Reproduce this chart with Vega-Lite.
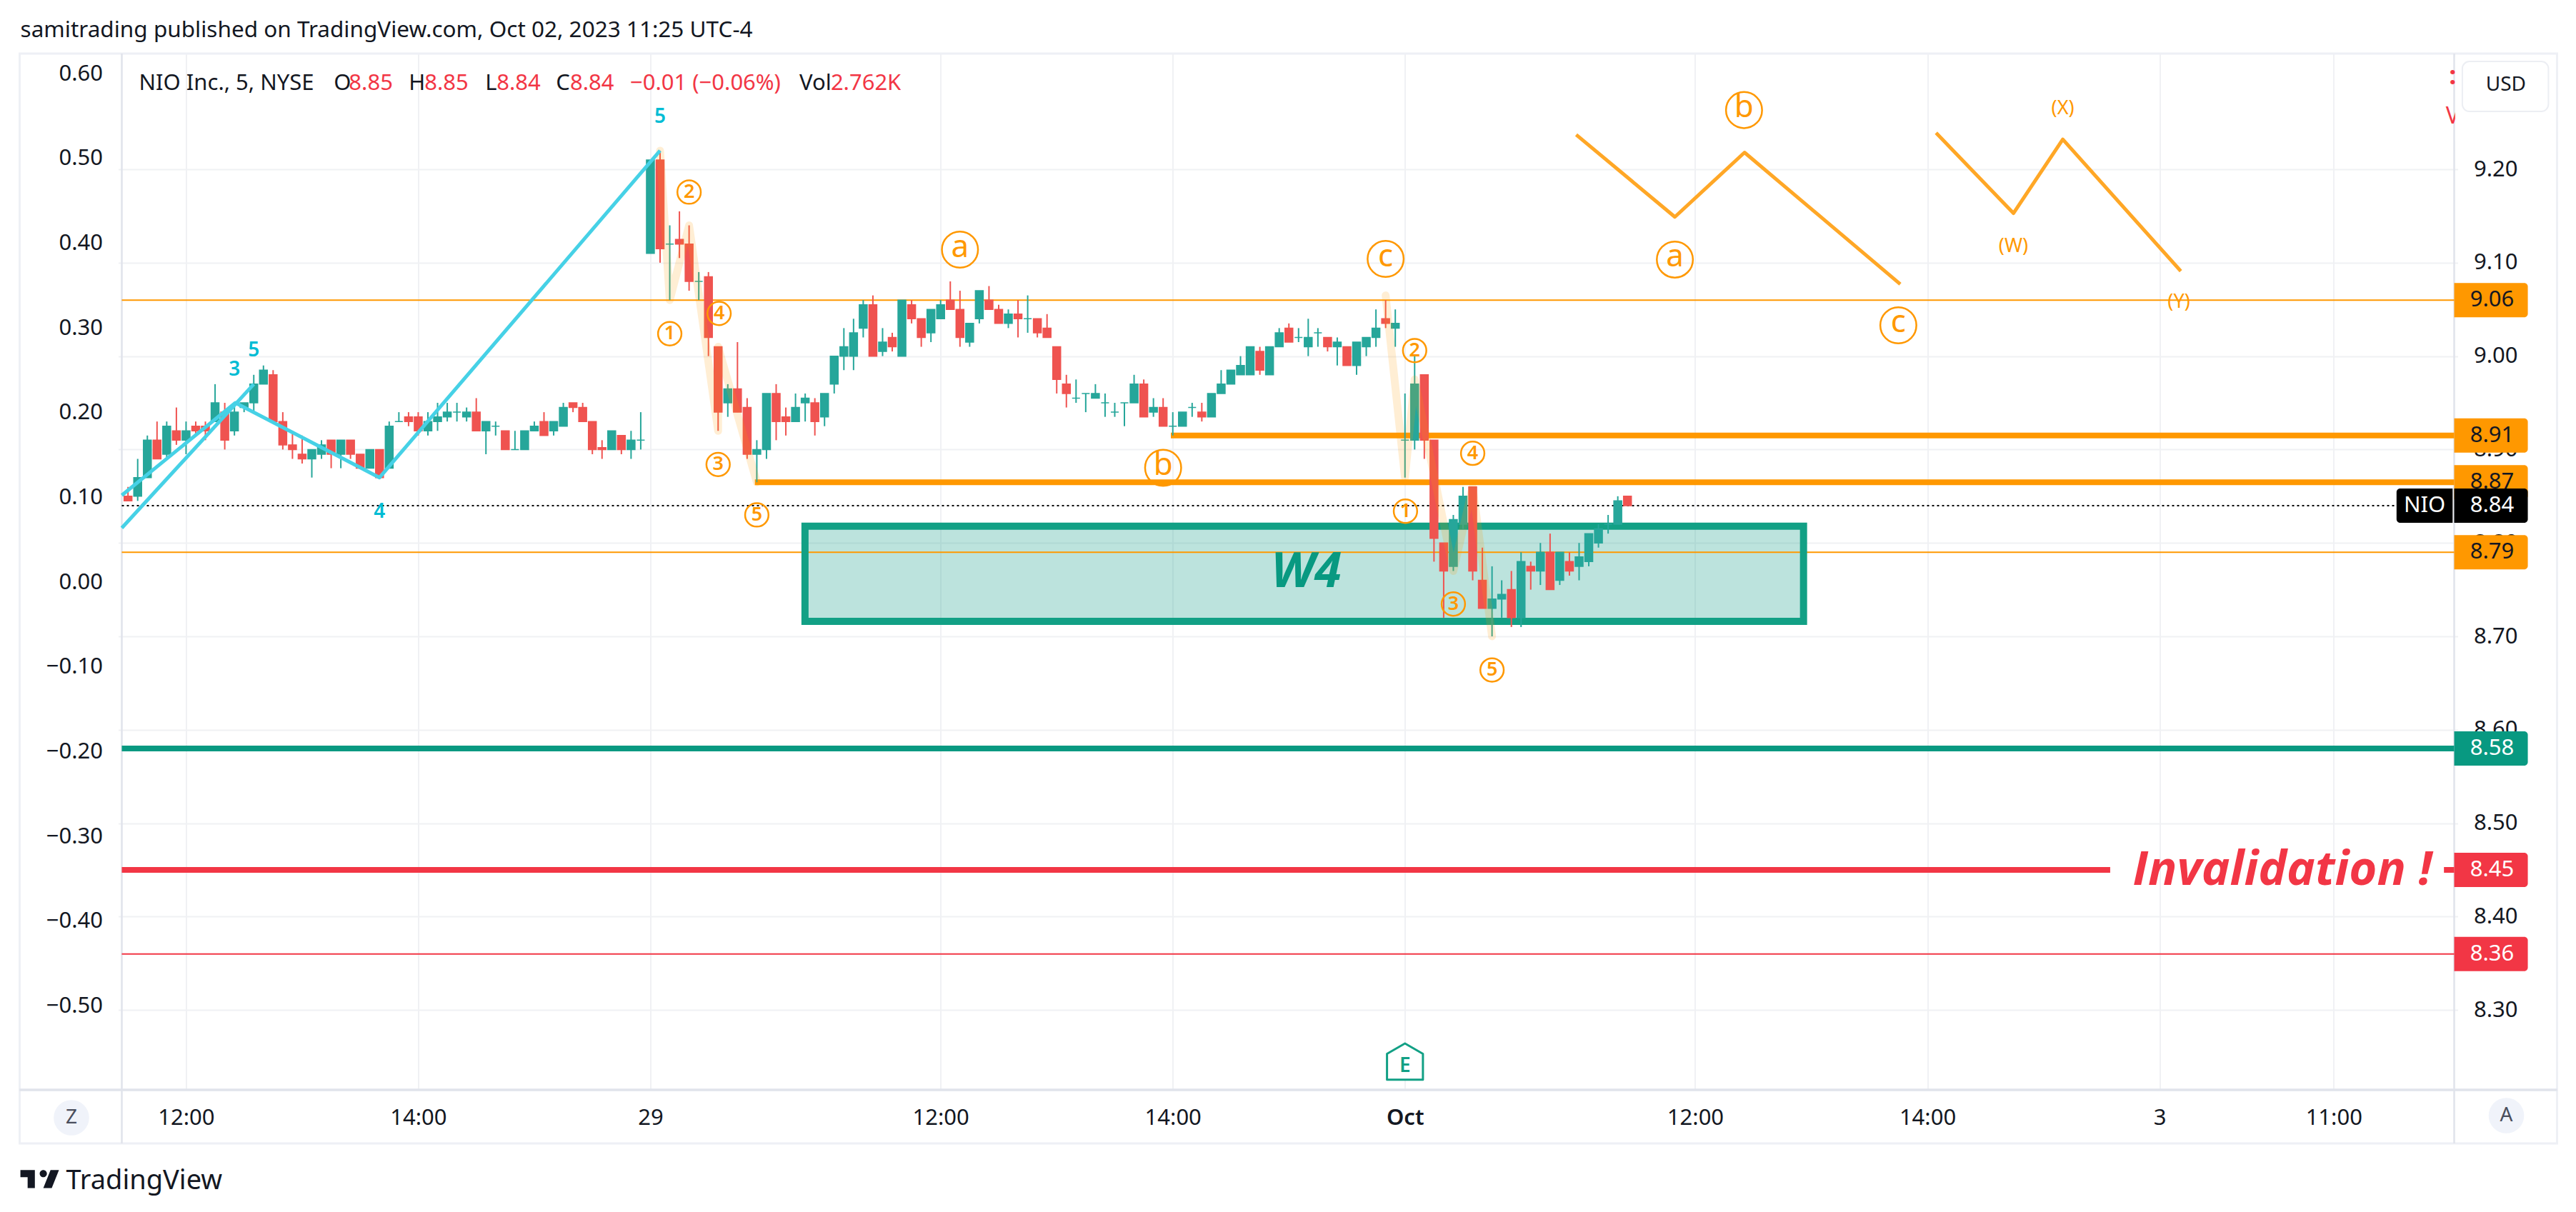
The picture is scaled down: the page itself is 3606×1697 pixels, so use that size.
{"$schema":"https://vega.github.io/schema/vega-lite/v6.json","autosize":{"type":"none"},"padding":{"left":165.5,"top":75,"right":165.5,"bottom":171},"width":3275,"height":1451,"background":"#ffffff",
"config":{"view":{"stroke":null},"text":{"font":"Noto Sans","color":"#131722"},"axis":{"labelFont":"Noto Sans","labelFontSize":31,"labelColor":"#131722","ticks":false,"domain":false,"title":null,"grid":false}},
"encoding":{"x":{"field":"i","type":"quantitative","title":null,"scale":{"domain":[-6.642,234.46],"nice":false,"zero":false},"axis":{"values":[0,24,48,78,102,126,156,180,204,222],"grid":true,"gridColor":"#f0f1f4","gridWidth":2,"labelPadding":24,"labelFlush":false,"labelOverlap":false,"labelFontWeight":{"expr":"datum.value===126?600:400"},"labelExpr":"{'0':'12:00','24':'14:00','48':'29','78':'12:00','102':'14:00','126':'Oct','156':'12:00','180':'14:00','204':'3','222':'11:00'}[datum.value]"}},
"y":{"field":"p","type":"quantitative","title":null,"scale":{"domain":[8.2145,9.3239],"nice":false,"zero":false},"axis":null}},
"resolve":{"scale":{"y":"independent"},"axis":{"y":"independent"}},
"layer":[
{"data":{"values":[{"i":0,"v":0.6},{"i":0,"v":-0.5}]},"mark":{"type":"point","opacity":0},"encoding":{"y":{"field":"v","type":"quantitative","title":null,"scale":{"domain":[-0.5997,0.62275],"nice":false,"zero":false},"axis":{"orient":"left","values":[0.6,0.5,0.4,0.3,0.2,0.1,0,-0.1,-0.2,-0.3,-0.4,-0.5],"format":".2f","labelPadding":22,"labelOffset":1}}}},
{"data":{"values":[{"i":0,"p":8.3},{"i":0,"p":9.2}]},"mark":{"type":"point","opacity":0},"encoding":{"y":{"field":"p","type":"quantitative","title":null,"scale":{"domain":[8.2145,9.3239],"nice":false,"zero":false},"axis":{"orient":"right","values":[8.3,8.4,8.5,8.6,8.7,8.8,8.9,9.0,9.1,9.2],"format":".2f","grid":true,"gridColor":"#f0f1f4","gridWidth":2,"labelPadding":22}}}},
{"data":{"values":[{"i":-17.2,"to":245.09,"p":9.3239,"p2":8.1572}]},"mark":{"type":"rect","fill":"transparent","stroke":"#eef0f5","strokeWidth":3},"encoding":{"x2":{"field":"to"},"y2":{"field":"p2"}}},
{"data":{"values":[{"i":-17.2,"to":245.09,"p":8.2145},{"i":-17.2,"to":245.09,"p":8.2145}]},"mark":{"type":"rule","stroke":"#e0e3eb","strokeWidth":3},"encoding":{"x2":{"field":"to"}}},
{"data":{"values":[{"i":-6.642,"p":9.3239,"p2":8.1572},{"i":234.46,"p":9.3239,"p2":8.1572}]},"mark":{"type":"rule","stroke":"#e0e3eb","strokeWidth":2.5},"encoding":{"y2":{"field":"p2"}}},
{"data":{"values":[{"i":63.98,"to":167.2,"p":8.818,"p2":8.716}]},"mark":{"type":"rect","fill":"#089981","fillOpacity":0.27},"encoding":{"x2":{"field":"to"},"y2":{"field":"p2"}}},
{"data":{"values":[{"p":9.06,"i":-6.642,"to":234.46,"kind":"orange","w":"thin"},{"p":8.79,"i":-6.642,"to":234.46,"kind":"orange","w":"thin"},{"p":8.915,"i":101.8,"to":234.46,"kind":"orange","w":"thick"},{"p":8.865,"i":58.8,"to":234.46,"kind":"orange","w":"thick"},{"p":8.58,"i":-6.642,"to":234.46,"kind":"teal","w":"thick"},{"p":8.45,"i":-6.642,"to":198.9,"kind":"red","w":"thick"},{"p":8.45,"i":233.4,"to":234.46,"kind":"red","w":"thick"},{"p":8.36,"i":-6.642,"to":234.46,"kind":"red","w":"thin"}]},"mark":{"type":"rule","strokeCap":"butt"},"encoding":{"x2":{"field":"to"},"color":{"field":"kind","type":"nominal","legend":null,"scale":{"domain":["orange","teal","red","black"],"range":["#ff9800","#089981","#f23645","#000000"]}},"strokeWidth":{"field":"w","type":"nominal","legend":null,"scale":{"domain":["thin","thick"],"range":[2,8]}}}},
{"data":{"values":[{"i":63.98,"to":167.2,"p":8.818,"p2":8.716}]},"mark":{"type":"rect","fill":"transparent","stroke":"#12a085","strokeWidth":10},"encoding":{"x2":{"field":"to"},"y2":{"field":"p2"}}},
{"data":{"values":[{"i":-6.642,"to":228.5,"p":8.84}]},"mark":{"type":"rule","stroke":"#000000","strokeWidth":2,"strokeDash":[3,4]},"encoding":{"x2":{"field":"to"}}},
{"data":{"name":"candles","values":[
{"i":-6,"o":8.85,"h":8.86,"l":8.845,"c":8.845},{"i":-5,"o":8.85,"h":8.89,"l":8.845,"c":8.87},{"i":-4,"o":8.87,"h":8.915,"l":8.87,"c":8.91},{"i":-3,"o":8.91,"h":8.93,"l":8.89,"c":8.89},{"i":-2,"o":8.895,"h":8.93,"l":8.89,"c":8.925},{"i":-1,"o":8.92,"h":8.945,"l":8.905,"c":8.91},{"i":0,"o":8.91,"h":8.93,"l":8.895,"c":8.92},{"i":1,"o":8.925,"h":8.93,"l":8.915,"c":8.92},{"i":2,"o":8.925,"h":8.93,"l":8.91,"c":8.92},{"i":3,"o":8.93,"h":8.97,"l":8.93,"c":8.95},{"i":4,"o":8.94,"h":8.95,"l":8.9,"c":8.91},{"i":5,"o":8.92,"h":8.95,"l":8.915,"c":8.94},{"i":6,"o":8.945,"h":8.95,"l":8.94,"c":8.95},{"i":7,"o":8.95,"h":8.98,"l":8.94,"c":8.97},{"i":8,"o":8.97,"h":8.99,"l":8.97,"c":8.985},{"i":9,"o":8.98,"h":8.985,"l":8.93,"c":8.93},{"i":10,"o":8.93,"h":8.94,"l":8.9,"c":8.905},{"i":11,"o":8.905,"h":8.92,"l":8.89,"c":8.9},{"i":12,"o":8.895,"h":8.915,"l":8.885,"c":8.89},{"i":13,"o":8.89,"h":8.9,"l":8.87,"c":8.9},{"i":14,"o":8.895,"h":8.91,"l":8.89,"c":8.905},{"i":15,"o":8.91,"h":8.91,"l":8.88,"c":8.895},{"i":16,"o":8.895,"h":8.91,"l":8.88,"c":8.91},{"i":17,"o":8.91,"h":8.91,"l":8.89,"c":8.895},{"i":18,"o":8.895,"h":8.895,"l":8.88,"c":8.88},{"i":19,"o":8.88,"h":8.9,"l":8.88,"c":8.9},{"i":20,"o":8.9,"h":8.9,"l":8.87,"c":8.87},{"i":21,"o":8.88,"h":8.93,"l":8.88,"c":8.925},{"i":22,"o":8.93,"h":8.94,"l":8.93,"c":8.93},{"i":23,"o":8.935,"h":8.94,"l":8.925,"c":8.93},{"i":24,"o":8.935,"h":8.94,"l":8.915,"c":8.92},{"i":25,"o":8.92,"h":8.94,"l":8.915,"c":8.93},{"i":26,"o":8.93,"h":8.95,"l":8.92,"c":8.935},{"i":27,"o":8.935,"h":8.95,"l":8.93,"c":8.94},{"i":28,"o":8.94,"h":8.95,"l":8.93,"c":8.94},{"i":29,"o":8.935,"h":8.945,"l":8.93,"c":8.94},{"i":30,"o":8.94,"h":8.955,"l":8.92,"c":8.92},{"i":31,"o":8.92,"h":8.93,"l":8.895,"c":8.93},{"i":32,"o":8.925,"h":8.93,"l":8.915,"c":8.925},{"i":33,"o":8.92,"h":8.92,"l":8.9,"c":8.9},{"i":34,"o":8.9,"h":8.92,"l":8.9,"c":8.9},{"i":35,"o":8.9,"h":8.92,"l":8.9,"c":8.92},{"i":36,"o":8.92,"h":8.93,"l":8.92,"c":8.925},{"i":37,"o":8.93,"h":8.94,"l":8.915,"c":8.915},{"i":38,"o":8.92,"h":8.93,"l":8.915,"c":8.93},{"i":39,"o":8.925,"h":8.95,"l":8.925,"c":8.945},{"i":40,"o":8.95,"h":8.95,"l":8.94,"c":8.945},{"i":41,"o":8.945,"h":8.95,"l":8.93,"c":8.93},{"i":42,"o":8.93,"h":8.93,"l":8.895,"c":8.9},{"i":43,"o":8.902,"h":8.91,"l":8.89,"c":8.9},{"i":44,"o":8.9,"h":8.92,"l":8.9,"c":8.92},{"i":45,"o":8.915,"h":8.915,"l":8.895,"c":8.9},{"i":46,"o":8.9,"h":8.92,"l":8.89,"c":8.91},{"i":47,"o":8.91,"h":8.94,"l":8.9,"c":8.91},
{"i":48,"o":9.11,"h":9.21,"l":9.11,"c":9.21},{"i":49,"o":9.21,"h":9.22,"l":9.1,"c":9.115},{"i":50,"o":9.12,"h":9.14,"l":9.06,"c":9.12},{"i":51,"o":9.125,"h":9.155,"l":9.105,"c":9.12},{"i":52,"o":9.12,"h":9.14,"l":9.07,"c":9.08},{"i":53,"o":9.08,"h":9.09,"l":9.06,"c":9.08},{"i":54,"o":9.085,"h":9.09,"l":9.0,"c":9.02},{"i":55,"o":9.01,"h":9.01,"l":8.92,"c":8.94},{"i":56,"o":8.95,"h":8.97,"l":8.935,"c":8.965},{"i":57,"o":8.965,"h":9.015,"l":8.94,"c":8.94},{"i":58,"o":8.945,"h":8.955,"l":8.89,"c":8.895},{"i":59,"o":8.895,"h":8.91,"l":8.865,"c":8.9},{"i":60,"o":8.9,"h":8.96,"l":8.89,"c":8.96},{"i":61,"o":8.96,"h":8.97,"l":8.91,"c":8.93},{"i":62,"o":8.935,"h":8.945,"l":8.915,"c":8.93},{"i":63,"o":8.93,"h":8.96,"l":8.93,"c":8.945},{"i":64,"o":8.95,"h":8.96,"l":8.93,"c":8.955},{"i":65,"o":8.95,"h":8.955,"l":8.915,"c":8.93},{"i":66,"o":8.935,"h":8.96,"l":8.925,"c":8.96},{"i":67,"o":8.97,"h":9.0,"l":8.96,"c":9.0},{"i":68,"o":9.0,"h":9.03,"l":8.985,"c":9.01},{"i":69,"o":9.0,"h":9.04,"l":8.985,"c":9.025},{"i":70,"o":9.03,"h":9.06,"l":9.02,"c":9.055},{"i":71,"o":9.055,"h":9.065,"l":9.0,"c":9.0},{"i":72,"o":9.005,"h":9.03,"l":9.0,"c":9.015},{"i":73,"o":9.02,"h":9.025,"l":9.005,"c":9.01},{"i":74,"o":9.0,"h":9.06,"l":9.0,"c":9.06},{"i":75,"o":9.055,"h":9.06,"l":9.035,"c":9.04},{"i":76,"o":9.04,"h":9.04,"l":9.01,"c":9.02},{"i":77,"o":9.025,"h":9.05,"l":9.015,"c":9.05},{"i":78,"o":9.04,"h":9.06,"l":9.04,"c":9.055},{"i":79,"o":9.06,"h":9.08,"l":9.05,"c":9.05},{"i":80,"o":9.05,"h":9.07,"l":9.01,"c":9.02},{"i":81,"o":9.015,"h":9.035,"l":9.01,"c":9.035},{"i":82,"o":9.04,"h":9.07,"l":9.035,"c":9.07},{"i":83,"o":9.06,"h":9.075,"l":9.05,"c":9.05},{"i":84,"o":9.05,"h":9.055,"l":9.035,"c":9.035},{"i":85,"o":9.035,"h":9.05,"l":9.03,"c":9.045},{"i":86,"o":9.045,"h":9.06,"l":9.02,"c":9.04},{"i":87,"o":9.04,"h":9.065,"l":9.025,"c":9.04},{"i":88,"o":9.04,"h":9.04,"l":9.02,"c":9.025},{"i":89,"o":9.03,"h":9.045,"l":9.02,"c":9.02},{"i":90,"o":9.01,"h":9.01,"l":8.96,"c":8.975},{"i":91,"o":8.97,"h":8.98,"l":8.945,"c":8.96},{"i":92,"o":8.955,"h":8.975,"l":8.95,"c":8.955},{"i":93,"o":8.96,"h":8.96,"l":8.94,"c":8.96},{"i":94,"o":8.955,"h":8.97,"l":8.955,"c":8.96},{"i":95,"o":8.95,"h":8.96,"l":8.935,"c":8.95},{"i":96,"o":8.94,"h":8.95,"l":8.935,"c":8.94},{"i":97,"o":8.95,"h":8.95,"l":8.925,"c":8.95},{"i":98,"o":8.95,"h":8.98,"l":8.95,"c":8.97},{"i":99,"o":8.97,"h":8.975,"l":8.935,"c":8.935},{"i":100,"o":8.94,"h":8.955,"l":8.935,"c":8.945},{"i":101,"o":8.945,"h":8.955,"l":8.925,"c":8.925},{"i":102,"o":8.925,"h":8.94,"l":8.915,"c":8.925},{"i":103,"o":8.925,"h":8.94,"l":8.925,"c":8.94},{"i":104,"o":8.945,"h":8.95,"l":8.935,"c":8.945},{"i":105,"o":8.94,"h":8.95,"l":8.93,"c":8.935},{"i":106,"o":8.935,"h":8.96,"l":8.935,"c":8.96},{"i":107,"o":8.96,"h":8.985,"l":8.96,"c":8.97},{"i":108,"o":8.97,"h":8.985,"l":8.97,"c":8.985},{"i":109,"o":8.98,"h":9.0,"l":8.98,"c":8.99},{"i":110,"o":8.98,"h":9.01,"l":8.98,"c":9.01},{"i":111,"o":9.005,"h":9.01,"l":8.98,"c":8.985},{"i":112,"o":8.98,"h":9.01,"l":8.98,"c":9.01},{"i":113,"o":9.01,"h":9.03,"l":9.01,"c":9.025},{"i":114,"o":9.03,"h":9.035,"l":9.015,"c":9.015},{"i":115,"o":9.02,"h":9.03,"l":9.015,"c":9.02},{"i":116,"o":9.01,"h":9.04,"l":9.0,"c":9.02},{"i":117,"o":9.025,"h":9.03,"l":9.01,"c":9.025},{"i":118,"o":9.02,"h":9.02,"l":9.005,"c":9.01},{"i":119,"o":9.01,"h":9.02,"l":8.99,"c":9.015},{"i":120,"o":9.01,"h":9.01,"l":8.99,"c":8.99},{"i":121,"o":8.99,"h":9.015,"l":8.98,"c":9.015},{"i":122,"o":9.01,"h":9.02,"l":9.0,"c":9.02},{"i":123,"o":9.02,"h":9.05,"l":9.01,"c":9.03},{"i":124,"o":9.04,"h":9.06,"l":9.03,"c":9.035},{"i":125,"o":9.03,"h":9.05,"l":9.01,"c":9.035},{"i":126,"o":8.91,"h":8.96,"l":8.87,"c":8.91},{"i":127,"o":8.91,"h":9.0,"l":8.9,"c":8.97},{"i":128,"o":8.98,"h":8.98,"l":8.89,"c":8.91},{"i":129,"o":8.91,"h":8.91,"l":8.78,"c":8.805},{"i":130,"o":8.8,"h":8.8,"l":8.72,"c":8.77},{"i":131,"o":8.775,"h":8.83,"l":8.77,"c":8.825},{"i":132,"o":8.82,"h":8.86,"l":8.815,"c":8.85},{"i":133,"o":8.86,"h":8.86,"l":8.76,"c":8.77},{"i":134,"o":8.76,"h":8.795,"l":8.73,"c":8.73},{"i":135,"o":8.73,"h":8.775,"l":8.7,"c":8.74},{"i":136,"o":8.74,"h":8.76,"l":8.72,"c":8.745},{"i":137,"o":8.75,"h":8.77,"l":8.71,"c":8.72},{"i":138,"o":8.72,"h":8.79,"l":8.71,"c":8.78},{"i":139,"o":8.775,"h":8.78,"l":8.75,"c":8.77},{"i":140,"o":8.77,"h":8.8,"l":8.755,"c":8.79},{"i":141,"o":8.79,"h":8.81,"l":8.75,"c":8.75},{"i":142,"o":8.76,"h":8.79,"l":8.755,"c":8.79},{"i":143,"o":8.78,"h":8.79,"l":8.765,"c":8.77},{"i":144,"o":8.775,"h":8.8,"l":8.76,"c":8.785},{"i":145,"o":8.78,"h":8.81,"l":8.775,"c":8.81},{"i":146,"o":8.8,"h":8.82,"l":8.795,"c":8.815},{"i":147,"o":8.82,"h":8.83,"l":8.81,"c":8.82},{"i":148,"o":8.82,"h":8.85,"l":8.82,"c":8.845},{"i":149,"o":8.85,"h":8.85,"l":8.84,"c":8.84}]},
"mark":{"type":"rule","strokeWidth":2},"encoding":{"y":{"field":"l","type":"quantitative","scale":{"domain":[8.2145,9.3239],"nice":false,"zero":false},"axis":null},"y2":{"field":"h"},"color":{"condition":{"test":"datum.c<datum.o","value":"#ef5350"},"value":"#26a69a"}}},
{"data":{"name":"candles"},"mark":{"type":"bar","size":11,"strokeWidth":1.5,"orient":"vertical"},"encoding":{"y":{"field":"o","type":"quantitative","scale":{"domain":[8.2145,9.3239],"nice":false,"zero":false},"axis":null},"y2":{"field":"c"},"color":{"condition":{"test":"datum.c<datum.o","value":"#ef5350"},"value":"#26a69a"},"stroke":{"condition":{"test":"datum.c<datum.o","value":"#ef5350"},"value":"#26a69a"}}},
{"data":{"values":[{"seg":"a","n":1,"i":49,"p":9.22},{"seg":"a","n":2,"i":50,"p":9.06},{"seg":"a","n":3,"i":52,"p":9.14},{"seg":"a","n":4,"i":55,"p":8.92},{"seg":"a","n":5,"i":55,"p":9.01},{"seg":"a","n":6,"i":59,"p":8.865},{"seg":"b","n":1,"i":124,"p":9.065},{"seg":"b","n":2,"i":126,"p":8.87},{"seg":"b","n":3,"i":127,"p":8.975},{"seg":"b","n":4,"i":131,"p":8.77},{"seg":"b","n":5,"i":133,"p":8.86},{"seg":"b","n":6,"i":135,"p":8.7}]},"mark":{"type":"line","stroke":"#ff9800","strokeOpacity":0.17,"strokeWidth":11,"strokeCap":"round","strokeJoin":"round"},"encoding":{"detail":{"field":"seg"},"order":{"field":"n","type":"quantitative"}}},
{"data":{"values":[{"seg":"a","n":1,"i":-6.642,"p":8.816},{"seg":"a","n":2,"i":7,"p":8.97},{"seg":"b","n":1,"i":-6.642,"p":8.851},{"seg":"b","n":2,"i":5.1,"p":8.95},{"seg":"b","n":3,"i":20,"p":8.87},{"seg":"b","n":4,"i":49,"p":9.22}]},"mark":{"type":"line","stroke":"#46d1e6","strokeWidth":5,"strokeJoin":"round"},"encoding":{"detail":{"field":"seg"},"order":{"field":"n","type":"quantitative"}}},
{"data":{"values":[{"seg":"a","n":1,"i":143.7,"p":9.237},{"seg":"a","n":2,"i":153.9,"p":9.149},{"seg":"a","n":3,"i":161.1,"p":9.218},{"seg":"a","n":4,"i":177.2,"p":9.077},{"seg":"b","n":1,"i":180.9,"p":9.239},{"seg":"b","n":2,"i":188.9,"p":9.153},{"seg":"b","n":3,"i":194,"p":9.232},{"seg":"b","n":4,"i":206.2,"p":9.091}]},"mark":{"type":"line","stroke":"#ffa726","strokeWidth":5,"strokeJoin":"round"},"encoding":{"detail":{"field":"seg"},"order":{"field":"n","type":"quantitative"}}},
{"data":{"name":"bigc","values":[{"i":80,"p":9.114,"t":"a"},{"i":124,"p":9.104,"t":"c"},{"i":101,"p":8.8804,"t":"b"},{"i":153.9,"p":9.1034,"t":"a"},{"i":161.05,"p":9.2634,"t":"b"},{"i":177,"p":9.033,"t":"c"}]},"mark":{"type":"point","shape":"circle","filled":false,"stroke":"#ff9800","strokeWidth":2.5,"opacity":1,"size":2552}},
{"data":{"name":"bigc"},"mark":{"type":"text","color":"#ff9800","baseline":"middle","align":"center","fontSize":44,"dy":-3},"encoding":{"text":{"field":"t"}}},
{"data":{"name":"smallc","values":[{"i":50,"p":9.024,"t":"1"},{"i":52,"p":9.1756,"t":"2"},{"i":55,"p":8.884,"t":"3"},{"i":55.1,"p":9.0457,"t":"4"},{"i":59,"p":8.83,"t":"5"},{"i":126.05,"p":8.834,"t":"1"},{"i":127,"p":9.006,"t":"2"},{"i":131,"p":8.7346,"t":"3"},{"i":133,"p":8.896,"t":"4"},{"i":135,"p":8.664,"t":"5"}]},"mark":{"type":"point","shape":"circle","filled":false,"stroke":"#ff9800","strokeWidth":2.5,"opacity":1,"size":1075}},
{"data":{"name":"smallc"},"mark":{"type":"text","color":"#ff9800","baseline":"middle","align":"center","fontSize":27,"fontWeight":600},"encoding":{"text":{"field":"t"}}},
{"data":{"values":[{"i":188.9,"p":9.1175,"t":"(W)"},{"i":194,"p":9.265,"t":"(X)"},{"i":206,"p":9.0577,"t":"(Y)"}]},"mark":{"type":"text","color":"#ff9800","fontSize":27,"baseline":"middle"},"encoding":{"text":{"field":"t"}}},
{"data":{"values":[{"i":49,"p":9.2555,"t":"5"},{"i":5,"p":8.985,"t":"3"},{"i":7,"p":9.006,"t":"5"},{"i":20,"p":8.833,"t":"4"}]},"mark":{"type":"text","color":"#00bcd4","fontSize":28,"fontWeight":600,"baseline":"middle"},"encoding":{"text":{"field":"t"}}},
{"data":{"values":[{"i":115.8,"p":8.768,"t":"W4"}]},"mark":{"type":"text","color":"#089981","font":"Open Sans","fontStyle":"italic","fontWeight":"bold","fontSize":68,"baseline":"middle"},"encoding":{"text":{"field":"t"}}},
{"data":{"values":[{"i":216.7,"p":8.449,"t":"Invalidation !"}]},"mark":{"type":"text","color":"#f23645","font":"Open Sans","fontStyle":"italic","fontWeight":"bold","fontSize":67,"baseline":"middle"},"encoding":{"text":{"field":"t"}}},
{"data":{"values":[{"i":234.3,"p":9.2566,"t":"V"}]},"mark":{"type":"text","color":"#f23645","fontSize":32,"baseline":"middle"},"encoding":{"text":{"field":"t"}}},
{"data":{"values":[{"i":234.3,"p":9.2994,"t":":"}]},"mark":{"type":"text","color":"#f23645","fontSize":36,"fontWeight":"bold","baseline":"middle"},"encoding":{"text":{"field":"t"}}},
{"data":{"values":[{"i":234.56,"to":237,"p":9.32,"p2":9.23}]},"mark":{"type":"rect","fill":"#ffffff"},"encoding":{"x2":{"field":"to"},"y2":{"field":"p2"}}},
{"data":{"values":[{"i":126,"p":8.244}]},"mark":{"type":"point","filled":true,"fill":"#ffffff","stroke":"#12a085","strokeWidth":3,"strokeJoin":"round","opacity":1,"size":2800,"shape":"M0 -1 L0.95 -0.45 V0.92 H-0.95 V-0.45 Z"}},
{"data":{"values":[{"i":126,"p":8.24,"t":"E"}]},"mark":{"type":"text","color":"#12a085","fontSize":28,"fontWeight":600,"baseline":"middle"},"encoding":{"text":{"field":"t"}}},
{"data":{"values":[{"p":9.06,"i":234.46,"to":242.07,"kind":"orange"},{"p":8.915,"i":234.46,"to":242.07,"kind":"orange"},{"p":8.865,"i":234.46,"to":242.07,"kind":"orange"},{"p":8.79,"i":234.46,"to":242.07,"kind":"orange"},{"p":8.58,"i":234.46,"to":242.07,"kind":"teal"},{"p":8.45,"i":234.46,"to":242.07,"kind":"red"},{"p":8.36,"i":234.46,"to":242.07,"kind":"red"}]},"mark":{"type":"rect","height":48,"cornerRadiusTopRight":5,"cornerRadiusBottomRight":5},"encoding":{"x2":{"field":"to"},"color":{"field":"kind","type":"nominal","legend":null,"scale":{"domain":["orange","teal","red","black"],"range":["#ff9800","#089981","#f23645","#000000"]}}}},
{"data":{"values":[{"p":9.06,"i":236.1,"t":"9.06","kind":"orange"},{"p":8.915,"i":236.1,"t":"8.91","kind":"orange"},{"p":8.865,"i":236.1,"t":"8.87","kind":"orange"},{"p":8.79,"i":236.1,"t":"8.79","kind":"orange"},{"p":8.58,"i":236.1,"t":"8.58","kind":"teal"},{"p":8.45,"i":236.1,"t":"8.45","kind":"red"},{"p":8.36,"i":236.1,"t":"8.36","kind":"red"}]},"mark":{"type":"text","align":"left","baseline":"middle","fontSize":31},"encoding":{"text":{"field":"t"},"color":{"condition":{"test":"datum.kind==='orange'","value":"#131722"},"value":"#ffffff"}}},
{"data":{"values":[{"p":8.84,"i":234.46,"to":242.07}]},"mark":{"type":"rect","height":48,"fill":"#000000","cornerRadiusTopRight":5,"cornerRadiusBottomRight":5},"encoding":{"x2":{"field":"to"}}},
{"data":{"values":[{"p":8.84,"i":228.5,"to":234.3}]},"mark":{"type":"rect","height":48,"fill":"#000000","cornerRadiusTopLeft":5,"cornerRadiusBottomLeft":5},"encoding":{"x2":{"field":"to"}}},
{"data":{"values":[{"p":8.84,"i":236.1,"t":"8.84"}]},"mark":{"type":"text","align":"left","baseline":"middle","fontSize":31,"color":"#ffffff"},"encoding":{"text":{"field":"t"}}},
{"data":{"values":[{"p":8.84,"i":231.4,"t":"NIO"}]},"mark":{"type":"text","align":"center","baseline":"middle","fontSize":31,"color":"#ffffff"},"encoding":{"text":{"field":"t"}}},
{"data":{"values":[{"i":235.3,"to":244.2,"p":9.3154,"p2":9.2619}]},"mark":{"type":"rect","fill":"#ffffff","stroke":"#eceef3","strokeWidth":2,"cornerRadius":10},"encoding":{"x2":{"field":"to"},"y2":{"field":"p2"}}},
{"data":{"values":[{"i":239.8,"p":9.2902,"t":"USD"}]},"mark":{"type":"text","fontSize":28,"baseline":"middle"},"encoding":{"text":{"field":"t"}}},
{"data":{"values":[{"i":-11.85,"p":8.1847},{"i":239.85,"p":8.187}]},"mark":{"type":"point","shape":"circle","filled":true,"fill":"#f0f3fa","opacity":1,"size":2463}},
{"data":{"values":[{"i":-11.85,"p":8.1847,"t":"Z"},{"i":239.85,"p":8.187,"t":"A"}]},"mark":{"type":"text","fontSize":28,"color":"#4a4e5c","baseline":"middle"},"encoding":{"text":{"field":"t"}}},
{"data":{"values":[{"i":-17.12,"p":9.3483,"t":"samitrading published on TradingView.com, Oct 02, 2023 11:25 UTC-4"}]},"mark":{"type":"text","align":"left","baseline":"middle","fontSize":31.5},"encoding":{"text":{"field":"t"}}},
{"data":{"values":[{"i":-4.87,"p":9.2917,"t":"NIO Inc., 5, NYSE"},{"i":15.28,"p":9.2917,"t":"O"},{"i":23.03,"p":9.2917,"t":"H"},{"i":30.92,"p":9.2917,"t":"L"},{"i":38.23,"p":9.2917,"t":"C"},{"i":63.4,"p":9.2917,"t":"Vol"}]},"mark":{"type":"text","align":"left","baseline":"middle","fontSize":31},"encoding":{"text":{"field":"t"}}},
{"data":{"values":[{"i":16.83,"p":9.2917,"t":"8.85"},{"i":24.65,"p":9.2917,"t":"8.85"},{"i":32.1,"p":9.2917,"t":"8.84"},{"i":39.7,"p":9.2917,"t":"8.84"},{"i":45.9,"p":9.2917,"t":"−0.01 (−0.06%)"},{"i":66.64,"p":9.2917,"t":"2.762K"}]},"mark":{"type":"text","align":"left","baseline":"middle","fontSize":31,"color":"#f23645"},"encoding":{"text":{"field":"t"}}},
{"data":{"values":[{"i":-15.13,"p":8.119}]},"mark":{"type":"point","filled":true,"fill":"#131722","opacity":1,"size":2916,"shape":"M-0.25 -0.47 H-1 V-0.094 H-0.625 V0.469 H-0.25 Z M0.625 0.469 H0.1875 L0.5625 -0.469 H1 Z M0.1875 -0.094 A0.1875 0.1875 0 1 0 0.1875 -0.469 A0.1875 0.1875 0 0 0 0.1875 -0.094 Z"}},
{"data":{"values":[{"i":-12.4,"p":8.1167,"t":"TradingView"}]},"mark":{"type":"text","align":"left","baseline":"middle","fontSize":38},"encoding":{"text":{"field":"t"}}}
]}
